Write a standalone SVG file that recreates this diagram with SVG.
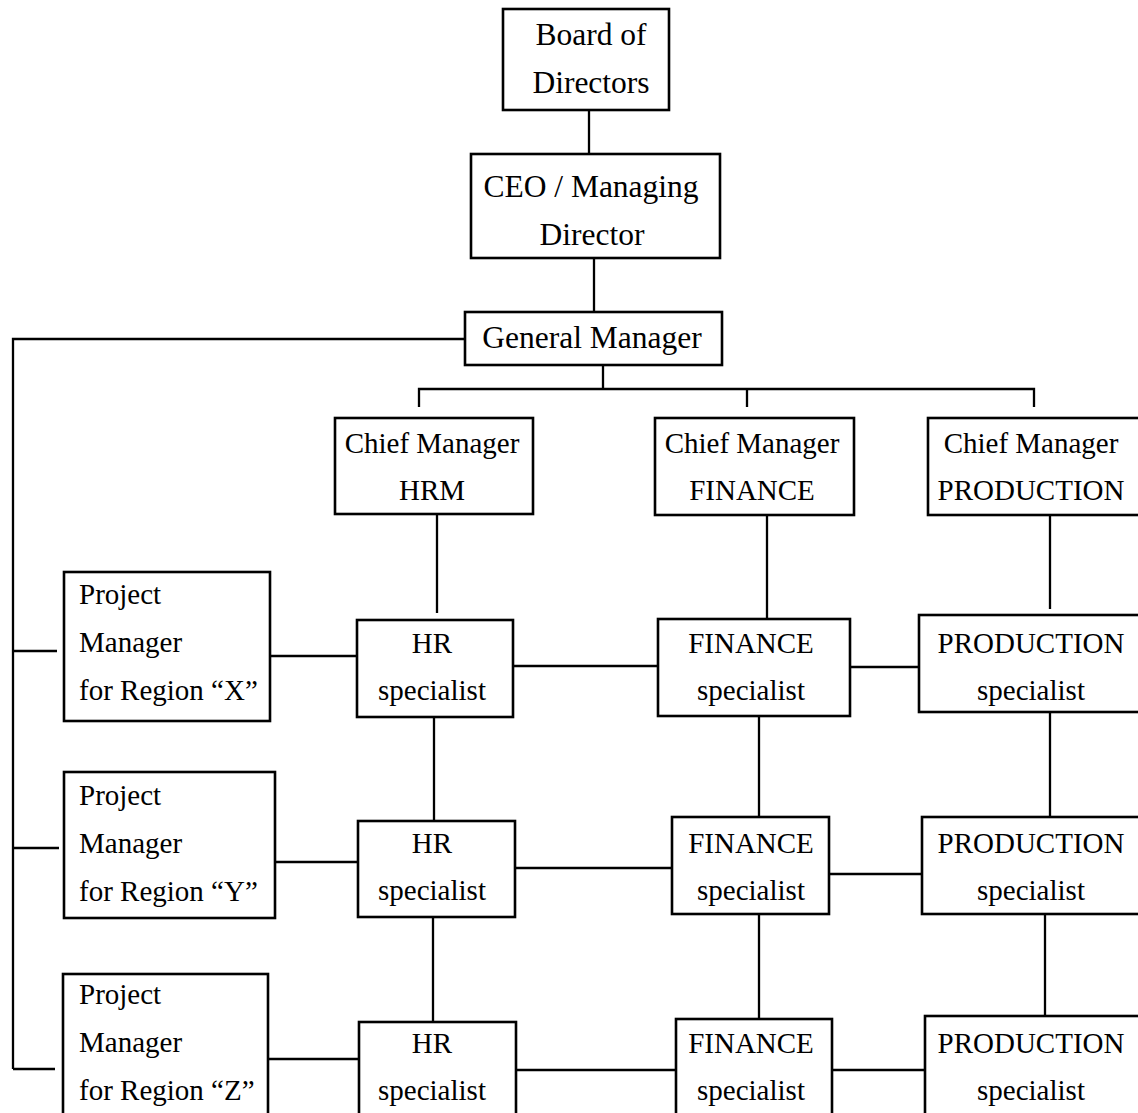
<svg xmlns="http://www.w3.org/2000/svg" width="1138" height="1113" viewBox="0 0 1138 1113">
<style>
.box{fill:#fff;stroke:#000;stroke-width:2.6}
.t{font-family:"Liberation Serif","Times New Roman",serif;font-size:29px;fill:#000;text-anchor:middle}
.big{font-size:31.5px}
.l{text-anchor:start}
.c{fill:none;stroke:#000;stroke-width:2.3}
</style>
<rect width="1138" height="1113" fill="#fff"/>
<g id="connectors">
<path class="c" d="M589 110V154"/>
<path class="c" d="M594 258V312"/>
<path class="c" d="M465 339H13V1069"/>
<path class="c" d="M13 651H57M13 848H59M13 1069H55"/>
<path class="c" d="M603 365V389M419 407V389H1034V407M747 389V407"/>
<path class="c" d="M437 514V613M767 515V619M1050 515V609"/>
<path class="c" d="M270 656H357M513 666H658M850 667H920"/>
<path class="c" d="M434 717V821M759 716V817M1050 712V817"/>
<path class="c" d="M275 862H358M515 868H672M829 874H922"/>
<path class="c" d="M433 917V1022M759 914V1019M1045 914V1017"/>
<path class="c" d="M268 1059H359M516 1070H676M832 1070H925"/>
</g>
<g id="board"><rect class="box" x="503" y="9" width="166" height="101"/><text class="t big" x="591" y="45">Board of</text><text class="t big" x="591" y="93">Directors</text></g>
<g id="ceo"><rect class="box" x="471" y="154" width="249" height="104"/><text class="t big" x="591" y="197">CEO / Managing</text><text class="t big" x="592" y="245">Director</text></g>
<g id="gm"><rect class="box" x="465" y="312" width="257" height="53"/><text class="t big" x="592" y="348">General Manager</text></g>
<g id="cm-hrm"><rect class="box" x="335" y="418" width="198" height="96"/><text class="t" x="432" y="453">Chief Manager</text><text class="t" x="432" y="500">HRM</text></g>
<g id="cm-fin"><rect class="box" x="655" y="418" width="199" height="97"/><text class="t" x="752" y="453">Chief Manager</text><text class="t" x="752" y="500">FINANCE</text></g>
<g id="cm-prod"><rect class="box" x="928" y="418" width="212" height="97"/><text class="t" x="1031" y="453">Chief Manager</text><text class="t" x="1031" y="500">PRODUCTION</text></g>
<g id="pm-x"><rect class="box" x="64" y="572" width="206" height="149"/><text class="t l" x="79" y="604">Project</text><text class="t l" x="79" y="652">Manager</text><text class="t l" x="79" y="700">for Region “X”</text></g>
<g id="hr-1"><rect class="box" x="357" y="620" width="156" height="97"/><text class="t" x="432" y="653">HR</text><text class="t" x="432" y="700">specialist</text></g>
<g id="fin-1"><rect class="box" x="658" y="619" width="192" height="97"/><text class="t" x="751" y="653">FINANCE</text><text class="t" x="751" y="700">specialist</text></g>
<g id="prod-1"><rect class="box" x="919" y="615" width="221" height="97"/><text class="t" x="1031" y="653">PRODUCTION</text><text class="t" x="1031" y="700">specialist</text></g>
<g id="pm-y"><rect class="box" x="64" y="772" width="211" height="146"/><text class="t l" x="79" y="805">Project</text><text class="t l" x="79" y="853">Manager</text><text class="t l" x="79" y="901">for Region “Y”</text></g>
<g id="hr-2"><rect class="box" x="358" y="821" width="157" height="96"/><text class="t" x="432" y="853">HR</text><text class="t" x="432" y="900">specialist</text></g>
<g id="fin-2"><rect class="box" x="672" y="817" width="157" height="97"/><text class="t" x="751" y="853">FINANCE</text><text class="t" x="751" y="900">specialist</text></g>
<g id="prod-2"><rect class="box" x="922" y="817" width="218" height="97"/><text class="t" x="1031" y="853">PRODUCTION</text><text class="t" x="1031" y="900">specialist</text></g>
<g id="pm-z"><rect class="box" x="63" y="974" width="205" height="150"/><text class="t l" x="79" y="1004">Project</text><text class="t l" x="79" y="1052">Manager</text><text class="t l" x="79" y="1100">for Region “Z”</text></g>
<g id="hr-3"><rect class="box" x="359" y="1022" width="157" height="100"/><text class="t" x="432" y="1053">HR</text><text class="t" x="432" y="1100">specialist</text></g>
<g id="fin-3"><rect class="box" x="676" y="1019" width="156" height="100"/><text class="t" x="751" y="1053">FINANCE</text><text class="t" x="751" y="1100">specialist</text></g>
<g id="prod-3"><rect class="box" x="925" y="1016" width="215" height="100"/><text class="t" x="1031" y="1053">PRODUCTION</text><text class="t" x="1031" y="1100">specialist</text></g>
</svg>
